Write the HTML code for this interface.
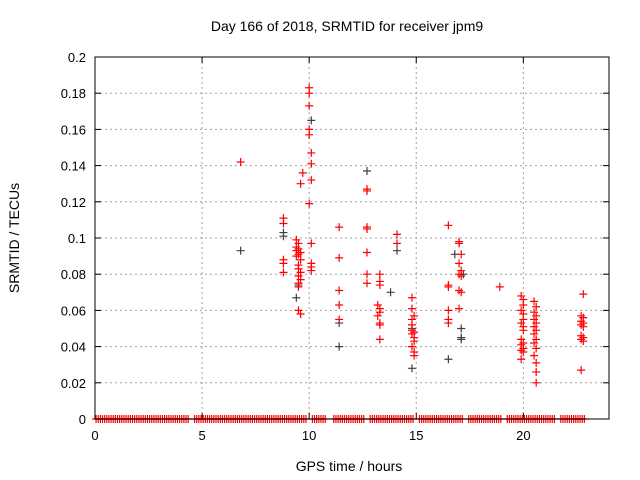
<!DOCTYPE html>
<html><head><meta charset="utf-8"><style>
html,body{margin:0;padding:0;background:#fff;}
svg{display:block;font-family:"Liberation Sans",sans-serif;}
</style></head><body>
<svg id="chart" width="640" height="480">
<text x="347" y="31" font-size="14" text-anchor="middle">Day 166 of 2018, SRMTID for receiver jpm9</text>
<text x="349" y="471" font-size="14" text-anchor="middle">GPS time / hours</text>
<text transform="translate(19,238) rotate(-90)" font-size="14" text-anchor="middle">SRMTID / TECUs</text>
<g id="grid"></g><g id="ticks"></g><g id="marks"></g>
<rect x="95" y="57" width="514" height="362" fill="none" stroke="#000" stroke-width="1"/>
</svg>
<script>
const xTicks=[0,5,10,15,20];
const yTicks=[0,0.02,0.04,0.06,0.08,0.1,0.12,0.14,0.16,0.18,0.2];
const yTickLabels=["0","0.02","0.04","0.06","0.08","0.1","0.12","0.14","0.16","0.18","0.2"];
const redHours=[6.8,8.8,8.8,8.8,8.8,8.8,
9.4,9.5,9.4,9.5,9.4,9.6,9.5,9.4,9.6,9.5,9.5,9.6,9.5,9.6,9.5,9.5,9.5,9.6,9.7,9.6,
10.0,10.0,10.0,10.0,10.0,10.1,10.1,10.1,10.0,10.1,10.1,10.1,10.1,
11.4,11.4,11.4,11.4,11.4,
12.7,12.7,12.7,12.7,12.7,12.7,12.7,
13.3,13.3,13.3,13.2,13.3,13.3,13.2,13.3,13.3,13.3,
14.1,14.1,
14.8,14.8,14.9,14.8,14.8,14.8,14.9,14.8,14.9,14.9,14.8,14.9,14.9,
16.5,16.5,16.5,16.5,16.5,16.5,
17.0,17.0,17.1,17.0,17.1,17.0,17.1,17.0,17.1,17.0,
18.9,
19.9,20.0,20.0,19.9,20.0,20.0,19.9,20.0,20.0,19.9,20.0,19.9,20.0,19.9,20.0,19.9,
20.5,20.6,20.5,20.6,20.5,20.6,20.5,20.6,20.5,20.6,20.5,20.6,20.5,20.6,20.6,20.6,
22.8,22.7,22.8,22.7,22.8,22.7,22.8,22.7,22.8,22.7,22.8,22.7];
const redValues=[0.142,0.111,0.108,0.088,0.086,0.081,
0.099,0.097,0.095,0.094,0.093,0.092,0.091,0.090,0.088,0.085,0.083,0.081,0.079,0.077,0.075,0.073,0.060,0.058,0.136,0.130,
0.183,0.180,0.173,0.160,0.157,0.147,0.141,0.132,0.119,0.097,0.086,0.084,0.082,
0.106,0.089,0.071,0.063,0.055,
0.127,0.126,0.106,0.105,0.092,0.080,0.075,
0.080,0.076,0.074,0.063,0.061,0.059,0.057,0.053,0.052,0.044,
0.102,0.097,
0.067,0.061,0.057,0.055,0.052,0.049,0.048,0.047,0.045,0.043,0.040,0.037,0.035,
0.107,0.074,0.073,0.060,0.055,0.053,
0.098,0.097,0.091,0.086,0.082,0.080,0.079,0.071,0.070,0.061,
0.073,
0.068,0.066,0.063,0.060,0.058,0.055,0.053,0.051,0.049,0.044,0.042,0.041,0.039,0.038,0.037,0.033,
0.065,0.062,0.059,0.057,0.055,0.053,0.051,0.049,0.047,0.044,0.042,0.039,0.035,0.031,0.026,0.020,
0.069,0.057,0.056,0.054,0.053,0.052,0.051,0.046,0.045,0.044,0.043,0.027];
const blackHours=[6.8,8.8,8.8,9.4,9.5,10.1,11.4,11.4,12.7,13.8,14.1,14.8,14.8,16.5,16.8,17.1,17.1,17.1,17.2];
const blackValues=[0.093,0.103,0.101,0.067,0.074,0.165,0.053,0.040,0.137,0.070,0.093,0.028,0.050,0.033,0.091,0.050,0.045,0.044,0.080];
const zeroHours=[0.05,0.15,0.25,0.35,0.45,0.55,0.65,0.75,0.85,0.95,1.05,1.15,1.25,1.35,1.45,1.55,1.65,1.75,1.85,1.95,2.05,2.15,2.25,2.35,2.45,2.55,2.65,2.75,2.85,2.95,3.05,3.15,3.25,3.35,3.45,3.55,3.65,3.75,3.85,3.95,4.05,4.15,4.25,4.35,4.65,4.75,4.85,4.95,5.05,5.15,5.25,5.35,5.45,5.55,5.65,5.75,5.85,5.95,6.05,6.15,6.25,6.35,6.45,6.55,6.65,6.75,6.85,6.95,7.05,7.15,7.25,7.35,7.45,7.55,7.65,7.75,7.85,7.95,8.05,8.15,8.25,8.35,8.45,8.55,8.65,8.75,8.85,8.95,9.05,9.15,9.25,9.35,9.45,9.55,9.65,9.75,9.85,10.15,10.25,10.35,10.45,10.55,10.65,10.75,11.15,11.25,11.35,11.45,11.55,11.65,11.75,11.85,11.95,12.05,12.15,12.25,12.35,12.45,12.55,12.85,12.95,13.05,13.15,13.25,13.35,13.45,13.55,13.65,13.75,13.85,13.95,14.05,14.15,14.25,14.35,14.45,14.55,14.65,14.75,14.85,15.15,15.25,15.35,15.45,15.55,15.65,15.75,15.85,15.95,16.05,16.15,16.25,16.35,16.45,16.55,16.65,16.75,16.85,16.95,17.05,17.15,17.45,17.55,17.65,17.75,17.85,17.95,18.05,18.15,18.25,18.35,18.45,18.55,18.65,18.75,18.85,18.95,19.25,19.35,19.45,19.55,19.65,19.75,19.85,19.95,20.05,20.15,20.25,20.35,20.45,20.55,20.65,20.75,20.85,20.95,21.05,21.15,21.25,21.35,21.45,21.75,21.85,21.95,22.05,22.15,22.25,22.35,22.45,22.55,22.65,22.75,22.85];
const X0=95,X1=609,Y0=419,Y1=57,XMAX=24,YMAX=0.2;
const xs=h=>X0+(X1-X0)*h/XMAX;
const ys=v=>Y0-(Y0-Y1)*v/YMAX;
const NS="http://www.w3.org/2000/svg";
const grid=document.getElementById('grid'),ticks=document.getElementById('ticks'),marks=document.getElementById('marks');
function mk(tag,attrs,parent){const e=document.createElementNS(NS,tag);for(const k in attrs)e.setAttribute(k,attrs[k]);parent.appendChild(e);return e;}
xTicks.forEach(t=>{const x=xs(t);
 if(t>0){const g=mk('line',{x1:x,x2:x,y1:Y1,y2:Y0,stroke:'#a0a0a0','stroke-dasharray':'2,3'},grid);
 
 }
 mk('line',{x1:x,x2:x,y1:Y0,y2:Y0-6,stroke:'#000'},ticks);
 mk('line',{x1:x,x2:x,y1:Y1,y2:Y1+6,stroke:'#000'},ticks);
 const l=mk('text',{x:x,y:Y0+21,'font-size':'13','text-anchor':'middle'},ticks);l.textContent=t;
 
 });
yTicks.forEach((t,i)=>{const y=ys(t);
 if(t>0&&t<YMAX){const g=mk('line',{x1:X0,x2:X1,y1:y,y2:y,stroke:'#a0a0a0','stroke-dasharray':'2,3'},grid);
 
 }
 mk('line',{x1:X0,x2:X0+6,y1:y,y2:y,stroke:'#000'},ticks);
 mk('line',{x1:X1,x2:X1-6,y1:y,y2:y,stroke:'#000'},ticks);
 const l=mk('text',{x:X0-9,y:y+5,'font-size':'13','text-anchor':'end'},ticks);l.textContent=yTickLabels[i];
 
 });
function cross(h,v,col,name){const x=xs(h),y=ys(v);
 const p=mk('path',{d:`M${x-4},${y}H${x+4}M${x},${y-4}V${y+4}`,stroke:col,'stroke-width':'1.2',fill:'none'},marks);
 
 }
zeroHours.forEach(h=>cross(h,0,'#ff0000','zero-point'));
blackHours.forEach((h,i)=>cross(h,blackValues[i],'#404040','black-point'));
redHours.forEach((h,i)=>cross(h,redValues[i],'#ff0000','red-point'));
</script>
</body></html>
